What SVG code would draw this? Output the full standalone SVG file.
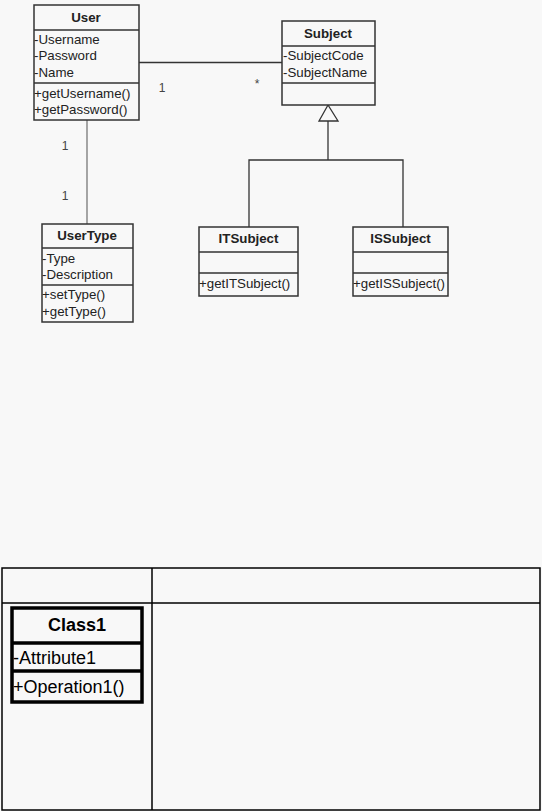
<svg xmlns="http://www.w3.org/2000/svg" width="542" height="811" viewBox="0 0 542 811">
<style>
.bg{fill:#f8f8f8}
.box{fill:#f8f8f8;stroke:#333;stroke-width:1.5}
.div{stroke:#333;stroke-width:1.5}
.t{font-family:"Liberation Sans",Arial,sans-serif;font-size:13.3px;fill:#222}
.h{font-family:"Liberation Sans",Arial,sans-serif;font-size:13.3px;font-weight:bold;fill:#222;text-anchor:middle}
.m{font-family:"Liberation Sans",Arial,sans-serif;font-size:12px;fill:#444}
.c{stroke:#333;stroke-width:1.3;fill:none}
.tb{stroke:#000;stroke-width:1.5;fill:none}
.k{fill:#f8f8f8;stroke:#000;stroke-width:3.5}
.kd{stroke:#000;stroke-width:3.5}
.kt{font-family:"Liberation Sans",Arial,sans-serif;font-size:18px;fill:#000}
</style>
<rect class="bg" x="0" y="0" width="542" height="811"/>
<g id="connectors">
<line class="c" x1="139" y1="62.5" x2="282" y2="62.5"/>
<line class="c" x1="87" y1="120" x2="87" y2="224" style="stroke:#777"/>
<polyline class="c" points="328,121 328,160"/>
<polyline class="c" points="249,227 249,160 403,160 403,227"/>
<polygon points="328,105 319,121 338,121" fill="#f8f8f8" stroke="#333" stroke-width="1.3"/>
<text class="m" x="162" y="92" text-anchor="middle">1</text>
<text class="m" x="257" y="88" text-anchor="middle">*</text>
<text class="m" x="65" y="150" text-anchor="middle">1</text>
<text class="m" x="65" y="200" text-anchor="middle">1</text>
</g>
<g id="User">
<rect class="box" x="34" y="5" width="105" height="115"/>
<line class="div" x1="34" y1="30" x2="139" y2="30"/>
<line class="div" x1="34" y1="83" x2="139" y2="83"/>
<text class="h" x="86" y="22">User</text>
<text class="t" x="34" y="44">-Username</text>
<text class="t" x="34" y="60">-Password</text>
<text class="t" x="34" y="77">-Name</text>
<text class="t" x="34" y="98">+getUsername()</text>
<text class="t" x="34" y="114">+getPassword()</text>
</g>
<g id="Subject">
<rect class="box" x="282" y="21" width="93" height="84"/>
<line class="div" x1="282" y1="46" x2="375" y2="46"/>
<line class="div" x1="282" y1="83" x2="375" y2="83"/>
<text class="h" x="328" y="38">Subject</text>
<text class="t" x="283" y="60">-SubjectCode</text>
<text class="t" x="283" y="77">-SubjectName</text>
</g>
<g id="UserType">
<rect class="box" x="42" y="224" width="91" height="98"/>
<line class="div" x1="42" y1="248" x2="133" y2="248"/>
<line class="div" x1="42" y1="285" x2="133" y2="285"/>
<text class="h" x="87" y="240">UserType</text>
<text class="t" x="42" y="263">-Type</text>
<text class="t" x="42" y="279">-Description</text>
<text class="t" x="42" y="299">+setType()</text>
<text class="t" x="42" y="316">+getType()</text>
</g>
<g id="ITSubject">
<rect class="box" x="199" y="227" width="99" height="69"/>
<line class="div" x1="199" y1="252" x2="298" y2="252"/>
<line class="div" x1="199" y1="273" x2="298" y2="273"/>
<text class="h" x="248.5" y="243">ITSubject</text>
<text class="t" x="199" y="288">+getITSubject()</text>
</g>
<g id="ISSubject">
<rect class="box" x="353" y="227" width="95" height="69"/>
<line class="div" x1="353" y1="252" x2="448" y2="252"/>
<line class="div" x1="353" y1="273" x2="448" y2="273"/>
<text class="h" x="400.5" y="243">ISSubject</text>
<text class="t" x="353" y="288">+getISSubject()</text>
</g>
<g id="table">
<rect class="tb" x="2" y="568" width="538" height="242"/>
<line class="tb" x1="152" y1="568" x2="152" y2="810"/>
<line class="tb" x1="2" y1="603" x2="540" y2="603"/>
</g>
<g id="Class1">
<rect class="k" x="12" y="608" width="130" height="94"/>
<line class="kd" x1="12" y1="643" x2="142" y2="643"/>
<line class="kd" x1="12" y1="671" x2="142" y2="671"/>
<text class="kt" x="77" y="631" text-anchor="middle" font-weight="bold">Class1</text>
<text class="kt" x="13" y="664">-Attribute1</text>
<text class="kt" x="13" y="693">+Operation1()</text>
</g>
</svg>
